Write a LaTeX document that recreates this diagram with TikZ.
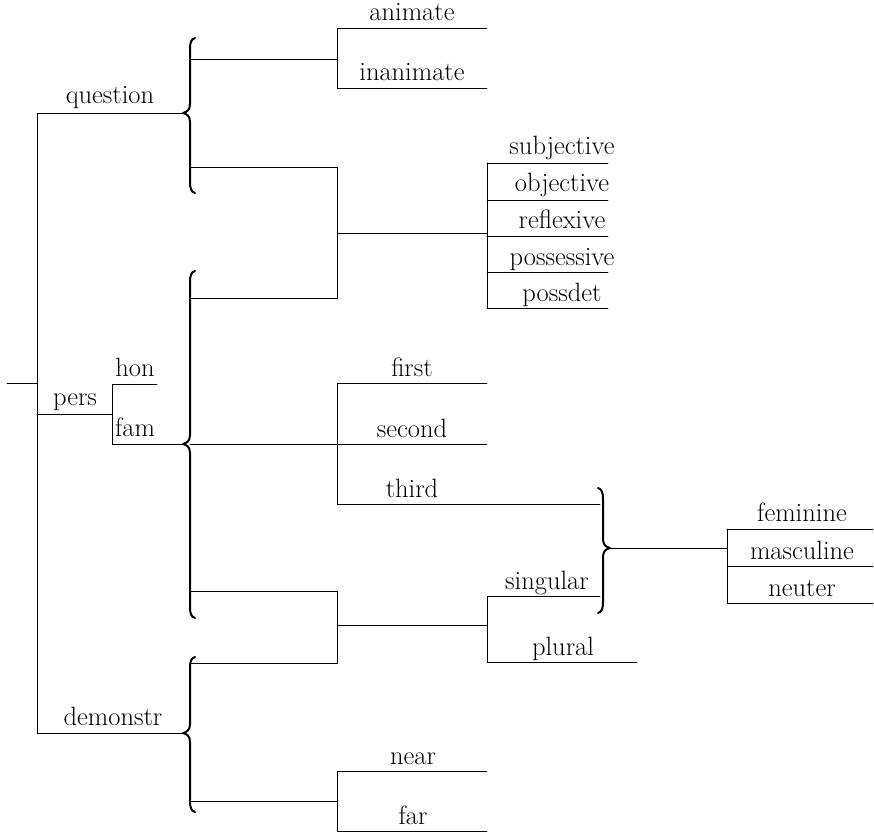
\documentclass[tikz,border=0pt]{standalone}
\begin{document}
\begin{tikzpicture}[x=1pt,y=-1pt,
  net/.style={line width=0.9pt, line cap=round},
  curl/.style={line width=2pt, line cap=round, line join=round},
  lab/.style={font=\fontsize{26.5}{30}\selectfont, anchor=base, inner sep=0pt}]
\useasboundingbox (0,0) rectangle (874,834);

% left-opening brace: body x, top, tip, bottom
\newcommand\CurlL[4]{%
  \draw[curl] (#1+5,#2) .. controls (#1+1,#2+1) and (#1,#2+5) .. (#1,#2+11)
    -- (#1,#3-9) .. controls (#1,#3-3) and (#1-3,#3-1) .. (#1-7,#3)
    .. controls (#1-3,#3+1) and (#1,#3+3) .. (#1,#3+9)
    -- (#1,#4-11) .. controls (#1,#4-5) and (#1+1,#4-1) .. (#1+5,#4);}
% right-opening brace
\newcommand\CurlR[4]{%
  \draw[curl] (#1-5,#2) .. controls (#1-1,#2+1) and (#1,#2+5) .. (#1,#2+11)
    -- (#1,#3-9) .. controls (#1,#3-3) and (#1+3,#3-1) .. (#1+7,#3)
    .. controls (#1+3,#3+1) and (#1,#3+3) .. (#1,#3+9)
    -- (#1,#4-11) .. controls (#1,#4-5) and (#1-1,#4-1) .. (#1-5,#4);}

% entry and main choice
\draw[net] (7,383) -- (37,383);
\draw[net] (183,113) -- (37,113) -- (37,733) -- (183,733);
\draw[net] (37,414) -- (112,414);
\draw[net] (157,384) -- (112,384) -- (112,444) -- (183,444);

\node[lab] (question) at (110,104) {question};
\node[lab] (pers) at (75,405) {pers};
\node[lab] (hon) at (135,376) {hon};
\node[lab] (fam) at (135,436) {fam};
\node[lab] (demonstr) at (113,725) {demonstr};

% braces
\CurlL{190}{38}{113}{193}
\CurlL{190}{271}{444}{618}
\CurlL{190}{657}{733}{812}
\CurlR{603}{488}{548}{613}

% animacy
\draw[net] (190,59) -- (337,59);
\draw[net] (487,28) -- (337,28) -- (337,88) -- (487,88);
\node[lab] (animate) at (412,21) {animate};
\node[lab] (inanimate) at (412,81) {inanimate};

% case
\draw[net] (190,167) -- (337,167) -- (337,298) -- (190,298);
\draw[net] (337,233) -- (487,233);
\draw[net] (487,163) -- (487,308);
\foreach \yy in {163,200,236,272,308} \draw[net] (487,\yy) -- (608,\yy);
\node[lab] (subjective) at (562,155) {subjective};
\node[lab] (objective) at (562,192) {objective};
\node[lab] (reflexive) at (562,229) {reflexive};
\node[lab] (possessive) at (562,265) {possessive};
\node[lab] (possdet) at (562,301) {possdet};

% person
\draw[net] (190,444) -- (487,444);
\draw[net] (487,383) -- (337,383) -- (337,504) -- (600,504);
\node[lab] (first) at (412,376) {first};
\node[lab] (second) at (412,437) {second};
\node[lab] (third) at (412,497) {third};

% number
\draw[net] (190,591) -- (337,591) -- (337,663) -- (190,663);
\draw[net] (337,625) -- (487,625);
\draw[net] (600,596) -- (487,596) -- (487,662) -- (637,662);
\node[lab] (singular) at (547,589) {singular};
\node[lab] (plural) at (563,655) {plural};

% gender
\draw[net] (610,548) -- (727,548);
\draw[net] (727,529) -- (727,603);
\foreach \yy in {529,566,603} \draw[net] (727,\yy) -- (873,\yy);
\node[lab] (feminine) at (802,521) {feminine};
\node[lab] (masculine) at (802,559) {masculine};
\node[lab] (neuter) at (802,596) {neuter};

% proximity
\draw[net] (190,801) -- (337,801);
\draw[net] (487,771) -- (337,771) -- (337,831) -- (487,831);
\node[lab] (near) at (413,764) {near};
\node[lab] (far) at (413,824) {far};
\end{tikzpicture}
\end{document}
